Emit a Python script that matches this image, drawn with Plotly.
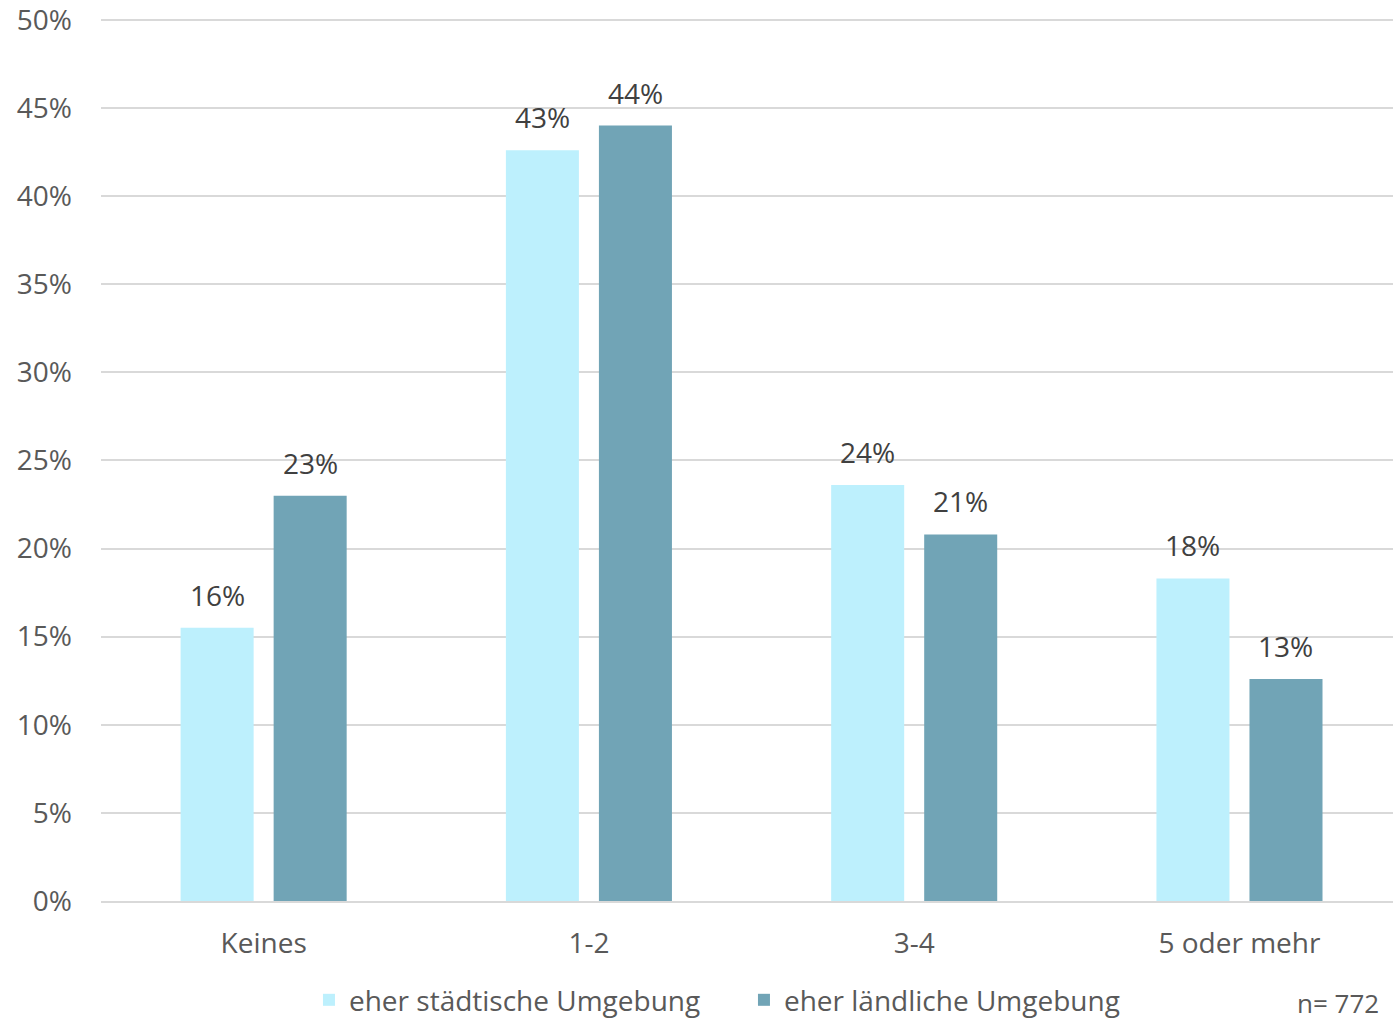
import plotly.graph_objects as go

# Anteile je Kategorie
categories = ["Keines", "1-2", "3-4", "5 oder mehr"]
staedtisch = [0.155, 0.426, 0.236, 0.183]
laendlich = [0.230, 0.440, 0.208, 0.126]
series_names = ["eher städtische Umgebung", "eher ländliche Umgebung"]
y_ticks = [0, 0.05, 0.10, 0.15, 0.20, 0.25, 0.30, 0.35, 0.40, 0.45, 0.50]
sample_note = "n= 772"

FONT = "Open Sans"
LIGHT = "#BDF0FD"
DARK = "#71A4B6"
W, H = 1393, 1020
M_L, M_R, M_T, M_B = 101, 0, 18, 119
X_RANGE = [-0.5, 3.472]
BARGAP, BARGROUPGAP = 0.428, 0.215

fig = go.Figure()
for name, vals, col in [(series_names[0], staedtisch, LIGHT), (series_names[1], laendlich, DARK)]:
    fig.add_trace(go.Bar(
        name=name, x=categories, y=vals,
        marker=dict(color=col, line=dict(width=0)),
        hoverinfo="x+y+name",
    ))

# value labels above each bar, shifted sideways to the bar's slot within the group
px_per_cat = (W - M_L - M_R) / (X_RANGE[1] - X_RANGE[0])
slot = (1 - BARGAP) * px_per_cat / 2
for k, vals in enumerate([staedtisch, laendlich]):
    shift = (k - 0.5) * slot
    for cat, v in zip(categories, vals):
        fig.add_annotation(x=cat, y=v, text=f"{v:.0%}", showarrow=False,
                           xanchor="center", yanchor="bottom", xshift=shift, yshift=12,
                           font=dict(family=FONT, size=28, color="#404040"))

fig.update_layout(
    width=W, height=H,
    margin=dict(l=M_L, r=M_R, t=M_T, b=M_B),
    paper_bgcolor="white", plot_bgcolor="white",
    barmode="group", bargap=BARGAP, bargroupgap=BARGROUPGAP,
    font=dict(family=FONT, size=28, color="#595959"),
    showlegend=True,
    legend=dict(orientation="h", xref="container", yref="container",
                x=0.2218, xanchor="left", y=0.0195, yanchor="middle",
                font=dict(family=FONT, size=28, color="#595959"),
                itemclick=False, entrywidth=390, tracegroupgap=0),
)
fig.update_xaxes(range=X_RANGE, showgrid=False, showline=True, linecolor="#D9D9D9",
                 linewidth=2, ticks="", ticklabelstandoff=16,
                 tickfont=dict(family=FONT, size=28, color="#595959"))
fig.update_yaxes(range=[0, 0.501], tickvals=y_ticks, tickformat=".0%", showgrid=True,
                 gridcolor="#D9D9D9", gridwidth=2, zeroline=False, showline=False,
                 ticks="", ticklabelstandoff=28, ticklabeloverflow="allow",
                 tickfont=dict(family=FONT, size=28, color="#595959"))
fig.add_annotation(text=sample_note, xref="paper", yref="paper", x=0.991, y=-0.116,
                   xanchor="right", yanchor="middle", showarrow=False,
                   font=dict(family=FONT, size=26, color="#595959"))

fig.write_html("out.html")
